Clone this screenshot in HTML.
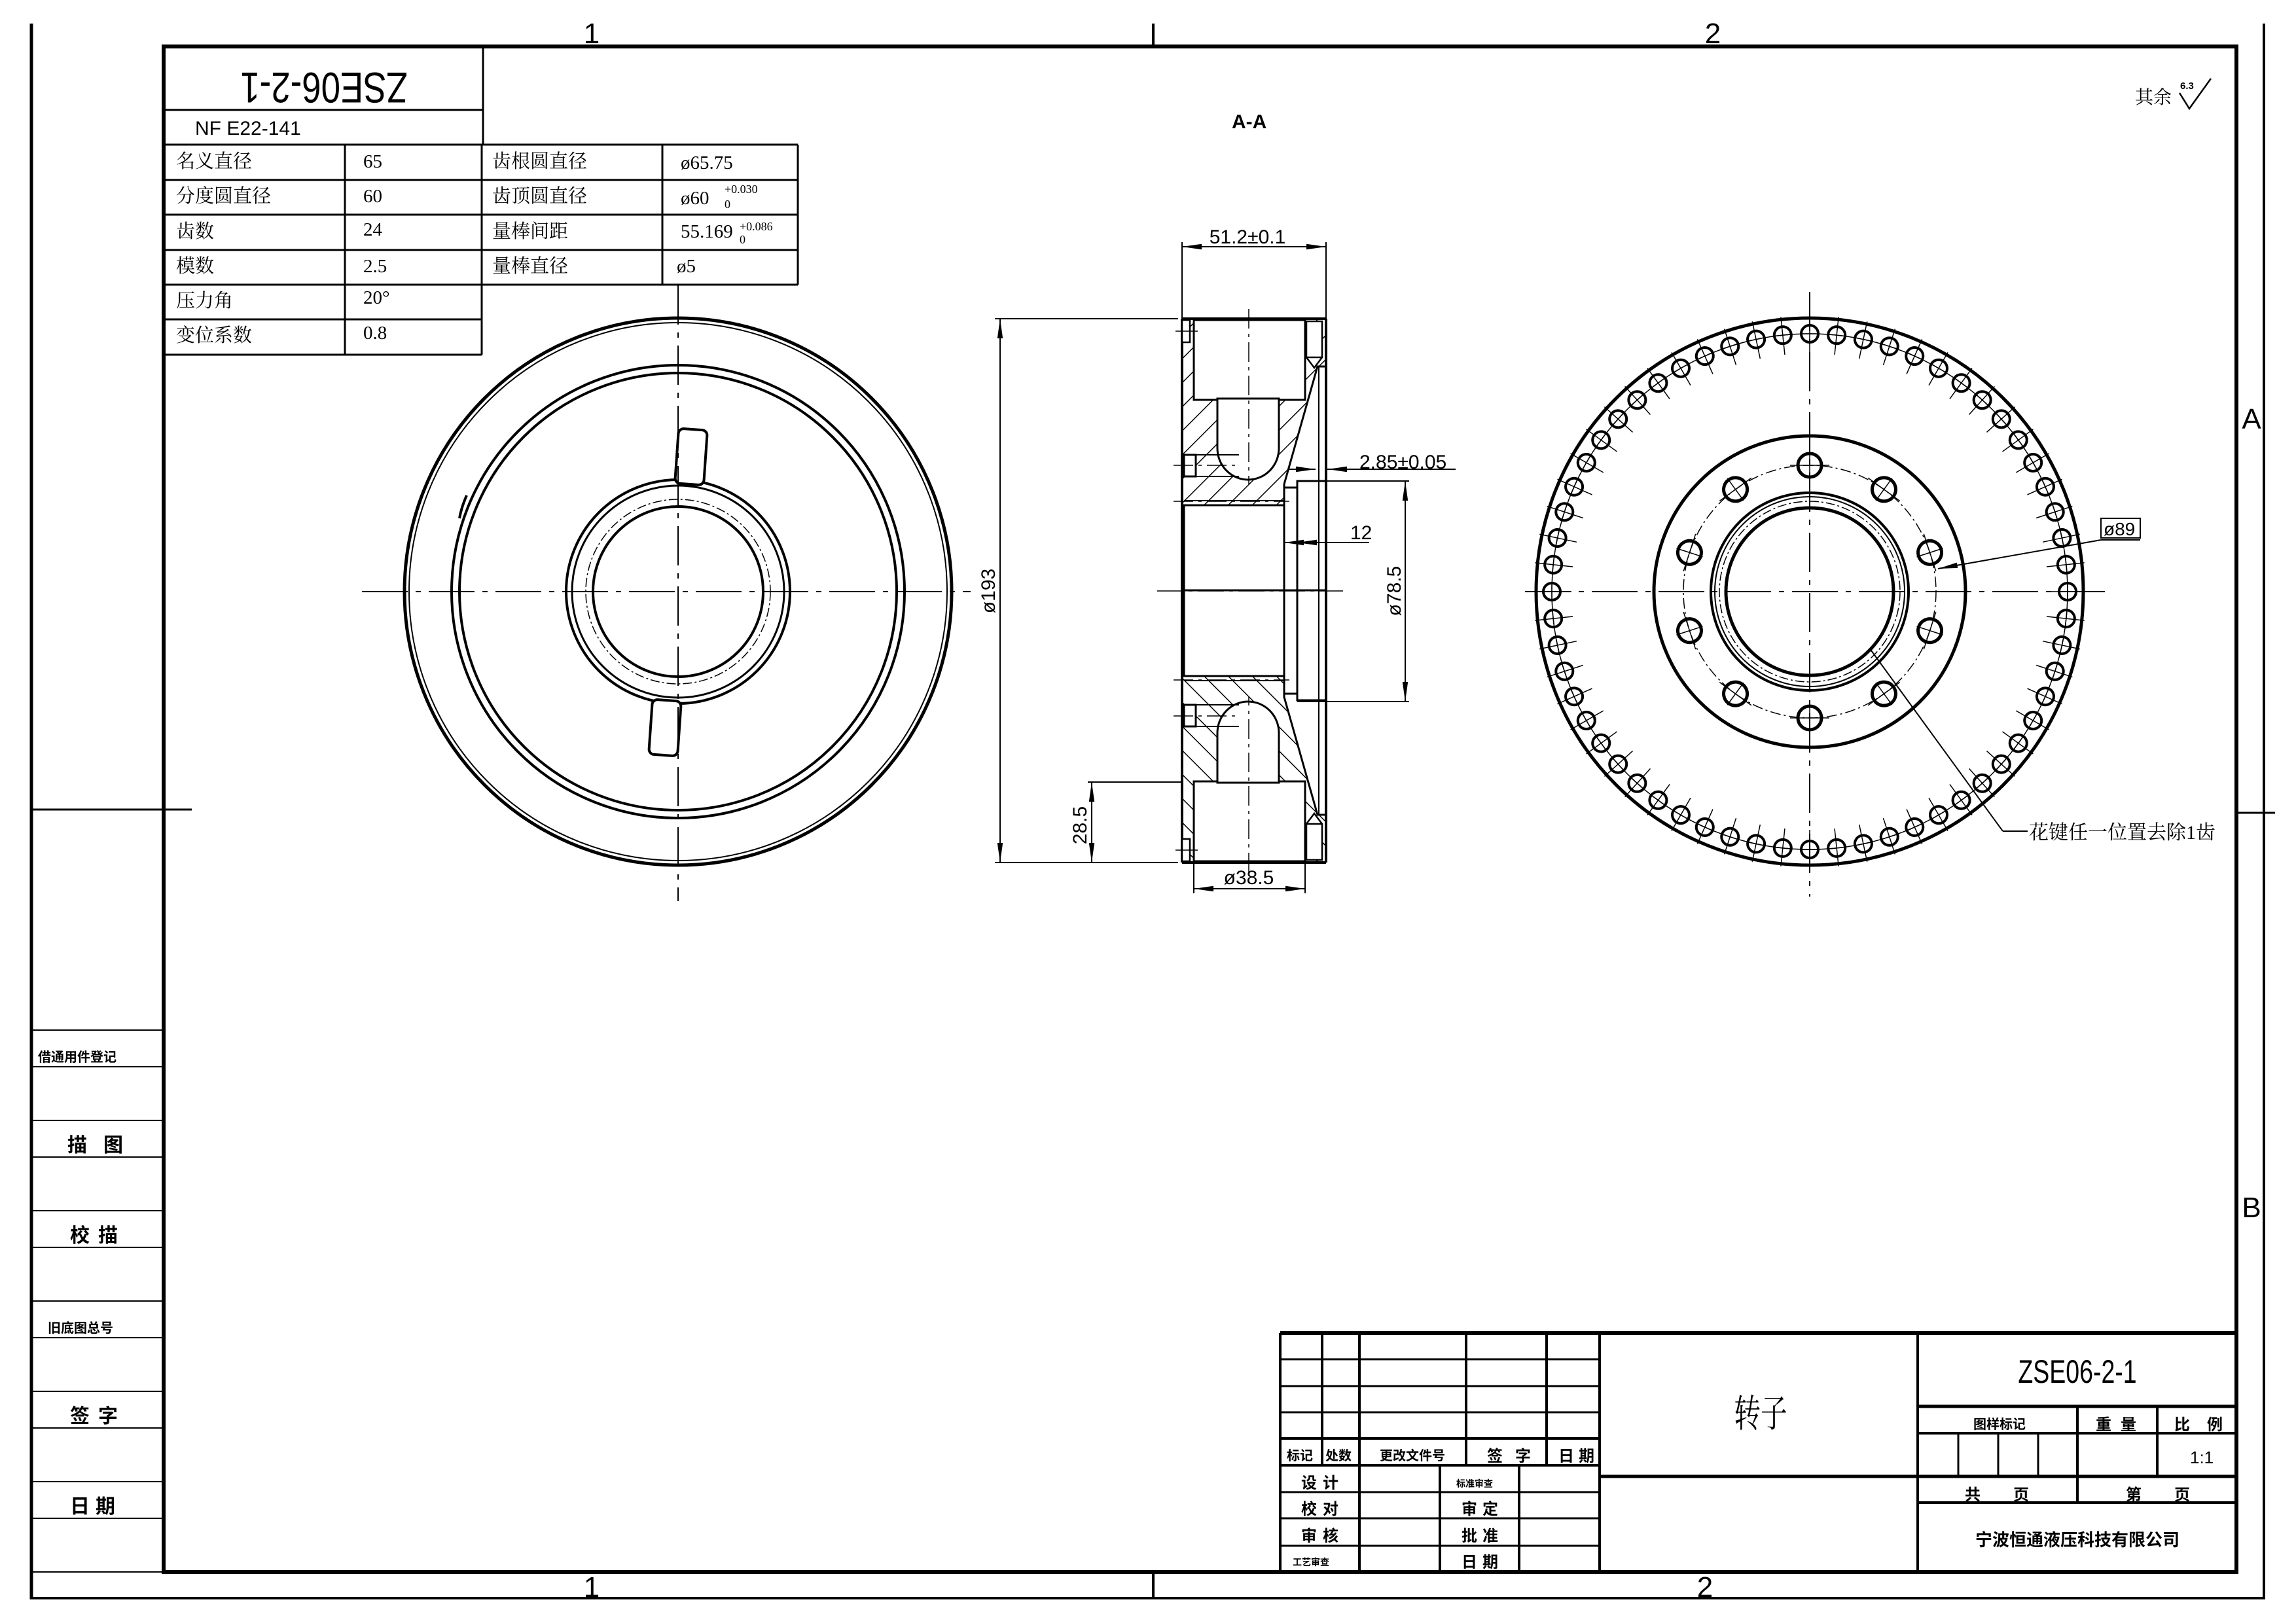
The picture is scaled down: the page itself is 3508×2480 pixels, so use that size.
<!DOCTYPE html>
<html><head><meta charset="utf-8"><style>
html,body{margin:0;padding:0;background:#fff;}
svg{display:block;}
.s{font-family:"Liberation Serif","Noto Serif CJK SC",serif;}
.b{font-family:"Liberation Sans","Noto Sans CJK SC",sans-serif;font-weight:bold;}
.n{font-family:"Liberation Sans","Noto Sans CJK SC",sans-serif;}
</style></head><body>
<svg width="3508" height="2480" viewBox="0 0 3508 2480" xmlns="http://www.w3.org/2000/svg">
<defs>
<pattern id="hat" patternUnits="userSpaceOnUse" width="26" height="26" patternTransform="rotate(45)">
<rect width="26" height="26" fill="#fff"/><line x1="0" y1="0" x2="0" y2="26" stroke="#000" stroke-width="3"/></pattern>
<marker id="ar2" viewBox="0 0 10 10" refX="10" refY="5" markerWidth="30" markerHeight="14" markerUnits="userSpaceOnUse" orient="auto-start-reverse" preserveAspectRatio="none">
<path d="M0,2 L10,5 L0,8 z" fill="#000"/></marker>
<g id="sh">
<circle cx="2765" cy="510" r="13" fill="none" stroke="#000" stroke-width="4"/>
<line x1="2765" y1="482" x2="2765" y2="540" stroke="#000" stroke-width="1.5"/>
<line x1="2751" y1="510" x2="2779" y2="510" stroke="#000" stroke-width="1.5"/>
</g>
<g id="bh">
<circle cx="2765" cy="711" r="18" fill="none" stroke="#000" stroke-width="5"/>
<line x1="2765" y1="690" x2="2765" y2="732" stroke="#000" stroke-width="1.5"/>
<line x1="2735" y1="711" x2="2795" y2="711" stroke="#000" stroke-width="1.5"/>
</g>
</defs>

<g stroke="#000" fill="none">
<line x1="48" y1="36" x2="48" y2="2444" stroke-width="5"/>
<line x1="48" y1="2442" x2="3459" y2="2442" stroke-width="4"/>
<line x1="3459" y1="36" x2="3459" y2="2444" stroke-width="4"/>
<rect x="250" y="71" width="3167" height="2331" stroke-width="6"/>
<line x1="1762" y1="36" x2="1762" y2="71" stroke-width="4"/>
<line x1="1762" y1="2402" x2="1762" y2="2442" stroke-width="4"/>
<line x1="48" y1="1237" x2="293" y2="1237" stroke-width="3"/>
<line x1="3417" y1="1242" x2="3476" y2="1242" stroke-width="3"/>
</g>
<g class="n" font-size="44" text-anchor="middle">
<text x="904" y="66">1</text><text x="2617" y="66">2</text>
<text x="904" y="2440">1</text><text x="2605" y="2440">2</text>
<text x="3440" y="655">A</text><text x="3440" y="1860">B</text>
</g>

<g stroke="#000" stroke-width="2">
<line x1="48" y1="1574" x2="250" y2="1574"/><line x1="48" y1="1630" x2="250" y2="1630"/>
<line x1="48" y1="1712" x2="250" y2="1712"/><line x1="48" y1="1768" x2="250" y2="1768"/>
<line x1="48" y1="1850" x2="250" y2="1850"/><line x1="48" y1="1906" x2="250" y2="1906"/>
<line x1="48" y1="1988" x2="250" y2="1988"/><line x1="48" y1="2044" x2="250" y2="2044"/>
<line x1="48" y1="2126" x2="250" y2="2126"/><line x1="48" y1="2182" x2="250" y2="2182"/>
<line x1="48" y1="2264" x2="250" y2="2264"/><line x1="48" y1="2320" x2="250" y2="2320"/>
<line x1="48" y1="2402" x2="250" y2="2402"/>
</g>
<g class="b" font-size="30">
<text x="58" y="1622" font-size="20">借通用件登记</text>
<text x="103" y="1760">描</text><text x="158" y="1760">图</text>
<text x="107" y="1898">校</text><text x="150" y="1898">描</text>
<text x="73" y="2036" font-size="20">旧底图总号</text>
<text x="107" y="2174">签</text><text x="150" y="2174">字</text>
<text x="107" y="2312">日</text><text x="146" y="2312">期</text>
</g>

<g stroke="#000" stroke-width="3" fill="none">
<line x1="250" y1="168" x2="738" y2="168"/>
<line x1="738" y1="71" x2="738" y2="221"/>
<line x1="250" y1="221" x2="1219" y2="221"/>
<line x1="250" y1="275" x2="1219" y2="275"/>
<line x1="250" y1="328" x2="1219" y2="328"/>
<line x1="250" y1="382" x2="1219" y2="382"/>
<line x1="250" y1="435" x2="1219" y2="435"/>
<line x1="250" y1="488" x2="736" y2="488"/>
<line x1="250" y1="542" x2="736" y2="542"/>
<line x1="527" y1="221" x2="527" y2="542"/>
<line x1="736" y1="221" x2="736" y2="542"/>
<line x1="1012" y1="221" x2="1012" y2="435"/>
<line x1="1219" y1="221" x2="1219" y2="435"/>
</g>
<text class="n" font-size="66" text-anchor="middle" transform="translate(495,91) rotate(180) scale(0.8,1)" x="0" y="-20">ZSE06-2-1</text>
<text class="n" font-size="30" x="298" y="206">NF E22-141</text>
<g class="s" font-size="29">
<text x="269" y="256">名义直径</text><text x="555" y="256">65</text>
<text x="269" y="309">分度圆直径</text><text x="555" y="309">60</text>
<text x="269" y="363">齿数</text><text x="555" y="360">24</text>
<text x="269" y="416">模数</text><text x="555" y="416">2.5</text>
<text x="269" y="469">压力角</text><text x="555" y="464">20°</text>
<text x="269" y="522">变位系数</text><text x="555" y="518">0.8</text>
<text x="752" y="256">齿根圆直径</text><text x="1040" y="258">ø65.75</text>
<text x="752" y="309">齿顶圆直径</text><text x="1040" y="312">ø60</text>
<text x="1107" y="295" font-size="18">+0.030</text><text x="1107" y="318" font-size="18">0</text>
<text x="752" y="363">量棒间距</text><text x="1040" y="363">55.169</text>
<text x="1130" y="352" font-size="18">+0.086</text><text x="1130" y="372" font-size="18">0</text>
<text x="752" y="416">量棒直径</text><text x="1034" y="416">ø5</text>
</g>

<text class="b" font-size="30" x="1882" y="196">A-A</text>
<text class="s" font-size="28" x="3262" y="158">其余</text>
<g stroke="#000" stroke-width="2.5" fill="none"><path d="M3330,142 L3345,166 L3378,120"/></g>
<text class="b" font-size="15" x="3331" y="136">6.3</text>

<!-- LEFT VIEW -->
<g stroke="#000" fill="none">
<circle cx="1036" cy="904" r="418" stroke-width="5"/>
<circle cx="1036" cy="904" r="411" stroke-width="2"/>
<circle cx="1036" cy="904" r="346" stroke-width="4"/>
<circle cx="1036" cy="904" r="334" stroke-width="4"/>
<circle cx="1036" cy="904" r="171" stroke-width="4"/>
<circle cx="1036" cy="904" r="162" stroke-width="3"/>
<circle cx="1036" cy="904" r="141" stroke-width="1.5" stroke-dasharray="14,4,3,4"/>
<circle cx="1036" cy="904" r="130" stroke-width="4"/>
<rect x="1034" y="656" width="44" height="84" rx="8" stroke-width="4" fill="#fff" transform="rotate(4 1056 698)"/>
<rect x="994" y="1070" width="44" height="84" rx="8" stroke-width="4" fill="#fff" transform="rotate(4 1016 1112)"/>
<path d="M713,757 Q705,775 702,792" stroke-width="4"/>
<line x1="553" y1="904" x2="1483" y2="904" stroke-width="2" stroke-dasharray="70,12,8,12"/>
<line x1="1036" y1="436" x2="1036" y2="1377" stroke-width="2" stroke-dasharray="60,12,8,12"/>
</g>

<!-- SECTION A-A -->
<g stroke="#000" stroke-width="3">
<g id="half">
<rect x="1806" y="487" width="220" height="416" fill="url(#hat)" stroke="none"/>
<path d="M1824,489 L1994,489 L1994,611 L1824,611 Z" fill="#fff"/>
<path d="M1860,609 L1954,609 L1954,685 A47,48 0 0 1 1860,685 Z" fill="#fff"/>
<path d="M2013,560 L2026,560 L2026,903 L1962,903 L1962,740 Z" fill="#fff"/>
<rect x="1809" y="772" width="153" height="131" fill="#fff"/>
<line x1="1809" y1="765" x2="1962" y2="765" stroke-width="2"/>
<rect x="1962" y="745" width="20" height="158" fill="#fff"/>
<rect x="1982" y="735" width="44" height="168" fill="#fff"/>
<line x1="2015" y1="560" x2="2015" y2="903" stroke-width="2"/>
<rect x="1809" y="695" width="18" height="33" fill="#fff"/>
<line x1="1827" y1="695" x2="1893" y2="695" stroke-width="2"/>
<line x1="1827" y1="728" x2="1893" y2="728" stroke-width="2"/>
<line x1="1806" y1="487" x2="2026" y2="487" stroke-width="4"/>
<line x1="1806" y1="487" x2="1806" y2="903" stroke-width="4"/>
<line x1="2026" y1="487" x2="2026" y2="903" stroke-width="4"/>
<rect x="1996" y="491" width="24" height="55" fill="#fff" stroke-width="2.5"/>
<path d="M1996,546 L2008,562 L2020,546" fill="none" stroke-width="2.5"/>
<rect x="1806" y="489" width="12" height="34" fill="#fff" stroke-width="2.5"/>
<line x1="1796" y1="506" x2="1830" y2="506" stroke-width="1.5"/>
<line x1="1908" y1="472" x2="1908" y2="740" stroke-width="1.5" stroke-dasharray="30,8,5,8"/>
<line x1="1793" y1="711" x2="1893" y2="711" stroke-width="1.5" stroke-dasharray="30,8,5,8"/>
<line x1="1793" y1="766" x2="1970" y2="766" stroke-width="1.5" stroke-dasharray="30,8,5,8"/>
</g>
<use href="#half" transform="matrix(1,0,0,-1,0,1805)"/>
<line x1="1768" y1="903" x2="2052" y2="903" stroke-width="1.5" stroke-dasharray="40,8,6,8"/>
</g>
<g stroke="#000" stroke-width="2" fill="none">
<line x1="1806" y1="370" x2="1806" y2="487"/><line x1="2026" y1="370" x2="2026" y2="487"/>
<line x1="1806" y1="377" x2="2026" y2="377" marker-start="url(#ar2)" marker-end="url(#ar2)"/>
<line x1="1520" y1="487" x2="1800" y2="487"/><line x1="1520" y1="1318" x2="1800" y2="1318"/>
<line x1="1528" y1="487" x2="1528" y2="1318" marker-start="url(#ar2)" marker-end="url(#ar2)"/>
<line x1="1662" y1="1195" x2="1806" y2="1195"/>
<line x1="1668" y1="1195" x2="1668" y2="1318" marker-start="url(#ar2)" marker-end="url(#ar2)"/>
<line x1="1824" y1="1300" x2="1824" y2="1365"/><line x1="1994" y1="1300" x2="1994" y2="1365"/>
<line x1="1824" y1="1358" x2="1994" y2="1358" marker-start="url(#ar2)" marker-end="url(#ar2)"/>
<line x1="1969" y1="717" x2="2010" y2="717" marker-end="url(#ar2)"/>
<line x1="2224" y1="717" x2="2028" y2="717" marker-end="url(#ar2)"/>
<line x1="1982" y1="735" x2="2153" y2="735"/><line x1="1982" y1="1072" x2="2153" y2="1072"/>
<line x1="2147" y1="735" x2="2147" y2="1072" marker-start="url(#ar2)" marker-end="url(#ar2)"/>
<line x1="2092" y1="829" x2="1962" y2="829" marker-end="url(#ar2)"/>
<line x1="2013" y1="829" x2="1982" y2="829" marker-end="url(#ar2)"/>
</g>
<g class="n" font-size="30">
<text x="1906" y="372" text-anchor="middle">51.2±0.1</text>
<text x="2077" y="716">2.85±0.05</text>
<text x="2063" y="824">12</text>
<text x="1908" y="1351" text-anchor="middle">ø38.5</text>
<text transform="translate(1520,903) rotate(-90)" text-anchor="middle">ø193</text>
<text transform="translate(1660,1261) rotate(-90)" text-anchor="middle">28.5</text>
<text transform="translate(2140,903) rotate(-90)" text-anchor="middle">ø78.5</text>
</g>

<!-- RIGHT VIEW -->
<g stroke="#000" fill="none">
<circle cx="2765" cy="904" r="418" stroke-width="5"/>
<circle cx="2765" cy="904" r="394" stroke-width="1.5"/>
<circle cx="2765" cy="904" r="238" stroke-width="5"/>
<circle cx="2765" cy="904" r="193" stroke-width="1.5" stroke-dasharray="16,5,3,5"/>
<circle cx="2765" cy="904" r="151" stroke-width="4"/>
<circle cx="2765" cy="904" r="145" stroke-width="2"/>
<circle cx="2765" cy="904" r="138" stroke-width="1.5" stroke-dasharray="14,4,3,4"/>
<circle cx="2765" cy="904" r="128" stroke-width="5"/>
<line x1="2330" y1="904" x2="3228" y2="904" stroke-width="2" stroke-dasharray="70,12,8,12"/>
<line x1="2765" y1="446" x2="2765" y2="1370" stroke-width="2" stroke-dasharray="60,12,8,12"/>
</g>
<g>
<use href="#bh"/><use href="#bh" transform="rotate(36 2765 904)"/><use href="#bh" transform="rotate(72 2765 904)"/><use href="#bh" transform="rotate(108 2765 904)"/><use href="#bh" transform="rotate(144 2765 904)"/><use href="#bh" transform="rotate(180 2765 904)"/><use href="#bh" transform="rotate(216 2765 904)"/><use href="#bh" transform="rotate(252 2765 904)"/><use href="#bh" transform="rotate(288 2765 904)"/><use href="#bh" transform="rotate(324 2765 904)"/>
</g>
<g>
<use href="#sh"/><use href="#sh" transform="rotate(6 2765 904)"/><use href="#sh" transform="rotate(12 2765 904)"/><use href="#sh" transform="rotate(18 2765 904)"/><use href="#sh" transform="rotate(24 2765 904)"/><use href="#sh" transform="rotate(30 2765 904)"/><use href="#sh" transform="rotate(36 2765 904)"/><use href="#sh" transform="rotate(42 2765 904)"/><use href="#sh" transform="rotate(48 2765 904)"/><use href="#sh" transform="rotate(54 2765 904)"/>
<use href="#sh" transform="rotate(60 2765 904)"/><use href="#sh" transform="rotate(66 2765 904)"/><use href="#sh" transform="rotate(72 2765 904)"/><use href="#sh" transform="rotate(78 2765 904)"/><use href="#sh" transform="rotate(84 2765 904)"/><use href="#sh" transform="rotate(90 2765 904)"/><use href="#sh" transform="rotate(96 2765 904)"/><use href="#sh" transform="rotate(102 2765 904)"/><use href="#sh" transform="rotate(108 2765 904)"/><use href="#sh" transform="rotate(114 2765 904)"/>
<use href="#sh" transform="rotate(120 2765 904)"/><use href="#sh" transform="rotate(126 2765 904)"/><use href="#sh" transform="rotate(132 2765 904)"/><use href="#sh" transform="rotate(138 2765 904)"/><use href="#sh" transform="rotate(144 2765 904)"/><use href="#sh" transform="rotate(150 2765 904)"/><use href="#sh" transform="rotate(156 2765 904)"/><use href="#sh" transform="rotate(162 2765 904)"/><use href="#sh" transform="rotate(168 2765 904)"/><use href="#sh" transform="rotate(174 2765 904)"/>
<use href="#sh" transform="rotate(180 2765 904)"/><use href="#sh" transform="rotate(186 2765 904)"/><use href="#sh" transform="rotate(192 2765 904)"/><use href="#sh" transform="rotate(198 2765 904)"/><use href="#sh" transform="rotate(204 2765 904)"/><use href="#sh" transform="rotate(210 2765 904)"/><use href="#sh" transform="rotate(216 2765 904)"/><use href="#sh" transform="rotate(222 2765 904)"/><use href="#sh" transform="rotate(228 2765 904)"/><use href="#sh" transform="rotate(234 2765 904)"/>
<use href="#sh" transform="rotate(240 2765 904)"/><use href="#sh" transform="rotate(246 2765 904)"/><use href="#sh" transform="rotate(252 2765 904)"/><use href="#sh" transform="rotate(258 2765 904)"/><use href="#sh" transform="rotate(264 2765 904)"/><use href="#sh" transform="rotate(270 2765 904)"/><use href="#sh" transform="rotate(276 2765 904)"/><use href="#sh" transform="rotate(282 2765 904)"/><use href="#sh" transform="rotate(288 2765 904)"/><use href="#sh" transform="rotate(294 2765 904)"/>
<use href="#sh" transform="rotate(300 2765 904)"/><use href="#sh" transform="rotate(306 2765 904)"/><use href="#sh" transform="rotate(312 2765 904)"/><use href="#sh" transform="rotate(318 2765 904)"/><use href="#sh" transform="rotate(324 2765 904)"/><use href="#sh" transform="rotate(330 2765 904)"/><use href="#sh" transform="rotate(336 2765 904)"/><use href="#sh" transform="rotate(342 2765 904)"/><use href="#sh" transform="rotate(348 2765 904)"/><use href="#sh" transform="rotate(354 2765 904)"/>
</g>
<g stroke="#000" stroke-width="2" fill="none">
<rect x="3210" y="792" width="60" height="30"/>
<line x1="3210" y1="825" x2="3270" y2="825"/>
<line x1="3210" y1="825" x2="2961" y2="869" marker-end="url(#ar2)"/>
<line x1="2859" y1="994" x2="3060" y2="1270"/>
<line x1="3060" y1="1270" x2="3098" y2="1270"/>
</g>
<text class="n" font-size="28" x="3214" y="818">ø89</text>
<text class="s" font-size="30" x="3100" y="1282">花键任一位置去除1齿</text>

<!-- TITLE BLOCK -->
<g stroke="#000" stroke-width="4" fill="none">
<line x1="1956" y1="2037" x2="3417" y2="2037" stroke-width="6"/>
<line x1="1956" y1="2037" x2="1956" y2="2402"/>
<line x1="2444" y1="2037" x2="2444" y2="2402"/>
<line x1="2930" y1="2037" x2="2930" y2="2402"/>
<line x1="1956" y1="2077" x2="2444" y2="2077" stroke-width="3"/>
<line x1="1956" y1="2118" x2="2444" y2="2118" stroke-width="3"/>
<line x1="1956" y1="2158" x2="2444" y2="2158" stroke-width="3"/>
<line x1="1956" y1="2198" x2="2444" y2="2198"/>
<line x1="1956" y1="2239" x2="2444" y2="2239"/>
<line x1="1956" y1="2280" x2="2444" y2="2280" stroke-width="3"/>
<line x1="1956" y1="2320" x2="2444" y2="2320" stroke-width="3"/>
<line x1="1956" y1="2362" x2="2444" y2="2362" stroke-width="3"/>
<line x1="2020" y1="2037" x2="2020" y2="2239"/>
<line x1="2077" y1="2037" x2="2077" y2="2402"/>
<line x1="2240" y1="2037" x2="2240" y2="2239"/>
<line x1="2363" y1="2037" x2="2363" y2="2239"/>
<line x1="2200" y1="2239" x2="2200" y2="2402"/>
<line x1="2321" y1="2239" x2="2321" y2="2402"/>
<line x1="2444" y1="2256" x2="3417" y2="2256" stroke-width="5"/>
<line x1="2930" y1="2149" x2="3417" y2="2149" stroke-width="5"/>
<line x1="2930" y1="2190" x2="3417" y2="2190" stroke-width="4"/>
<line x1="2930" y1="2296" x2="3417" y2="2296" stroke-width="4"/>
<line x1="2992" y1="2190" x2="2992" y2="2256" stroke-width="3"/>
<line x1="3053" y1="2190" x2="3053" y2="2256" stroke-width="3"/>
<line x1="3114" y1="2190" x2="3114" y2="2256" stroke-width="3"/>
<line x1="3174" y1="2149" x2="3174" y2="2296"/>
<line x1="3296" y1="2149" x2="3296" y2="2256"/>
</g>
<g class="b" font-size="24">
<text x="1966" y="2231" font-size="20">标记</text>
<text x="2025" y="2231" font-size="20">处数</text>
<text x="2108" y="2231" font-size="20">更改文件号</text>
<text x="2272" y="2233">签</text><text x="2315" y="2233">字</text>
<text x="2381" y="2233">日</text><text x="2412" y="2233">期</text>
<text x="1988" y="2274">设</text><text x="2021" y="2274">计</text>
<text x="1988" y="2314">校</text><text x="2021" y="2314">对</text>
<text x="1988" y="2355">审</text><text x="2021" y="2355">核</text>
<text x="1975" y="2392" font-size="14">工艺审查</text>
<text x="2225" y="2272" font-size="14">标准审查</text>
<text x="2233" y="2314">审</text><text x="2265" y="2314">定</text>
<text x="2233" y="2355">批</text><text x="2265" y="2355">准</text>
<text x="2233" y="2395">日</text><text x="2265" y="2395">期</text>
<text x="3015" y="2183" font-size="20">图样标记</text>
<text x="3202" y="2185">重</text><text x="3240" y="2185">量</text>
<text x="3322" y="2185">比</text><text x="3372" y="2185">例</text>
<text x="3002" y="2292">共</text><text x="3076" y="2292">页</text>
<text x="3248" y="2292">第</text><text x="3322" y="2292">页</text>
</g>
<text class="n" font-size="26" x="3346" y="2236">1:1</text>
<text class="s" font-size="58" x="2690" y="2180" text-anchor="middle" transform="translate(2690,0) scale(0.7,1) translate(-2690,0)">转子</text>
<text class="n" font-size="50" x="3174" y="2113" text-anchor="middle" transform="translate(3174,0) scale(0.75,1) translate(-3174,0)">ZSE06-2-1</text>
<text class="b" font-size="26" x="3174" y="2362" text-anchor="middle">宁波恒通液压科技有限公司</text>
</svg>
</body></html>
